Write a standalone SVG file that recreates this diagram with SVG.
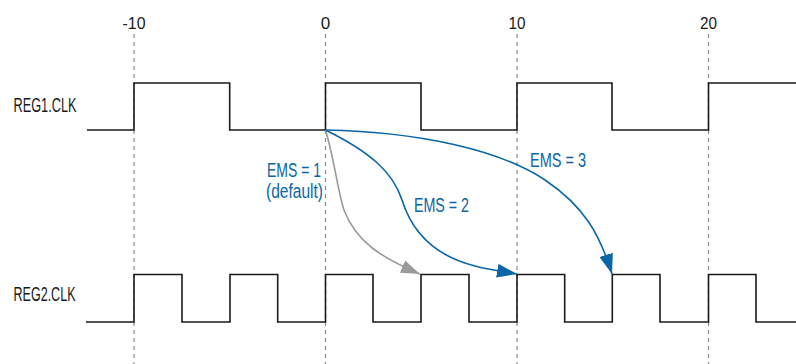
<svg xmlns="http://www.w3.org/2000/svg" width="796" height="364" viewBox="0 0 796 364">
  <style>
    .lbl { font-family: "Liberation Sans", Arial, sans-serif; fill: #1a1a1a; }
    .tick { font-size: 17px; text-anchor: middle; }
    .sig { font-size: 20px; }
    .ems { font-family: "Liberation Sans", Arial, sans-serif; font-size: 20px; fill: #0a66a6; }
    .grid { stroke: #8a8a8a; stroke-width: 1.2; stroke-dasharray: 4 4; fill: none; }
    .wave { stroke: #1a1a1a; stroke-width: 1.6; fill: none; stroke-linejoin: miter; }
    .blue { stroke: #0a66a6; stroke-width: 1.6; fill: none; }
    .gray { stroke: #9a9a9a; stroke-width: 1.6; fill: none; }
  </style>
  <defs>
    <marker id="ahBlue" viewBox="0 0 20 14" refX="20" refY="7" markerWidth="20" markerHeight="14" markerUnits="userSpaceOnUse" orient="auto">
      <path d="M0,0 L20,7 L0,14 z" fill="#0a66a6"/>
    </marker>
    <marker id="ahGray" viewBox="0 0 20 14" refX="20" refY="7" markerWidth="19" markerHeight="14" markerUnits="userSpaceOnUse" orient="auto">
      <path d="M0,0 L20,7 L0,14 z" fill="#9a9a9a"/>
    </marker>
  </defs>

  <g id="grid">
    <line class="grid" x1="134" y1="34" x2="134" y2="364"/>
    <line class="grid" x1="325.5" y1="34" x2="325.5" y2="364"/>
    <line class="grid" x1="517" y1="34" x2="517" y2="364"/>
    <line class="grid" x1="708.5" y1="34" x2="708.5" y2="364"/>
    <text class="lbl tick" x="134" y="28.5" textLength="23" lengthAdjust="spacingAndGlyphs">-10</text>
    <text class="lbl tick" x="325.5" y="28.5">0</text>
    <text class="lbl tick" x="517" y="28.5" textLength="17" lengthAdjust="spacingAndGlyphs">10</text>
    <text class="lbl tick" x="708.5" y="28.5" textLength="17" lengthAdjust="spacingAndGlyphs">20</text>
  </g>

  <g id="reg1">
    <text class="lbl sig" x="13.5" y="112" textLength="63" lengthAdjust="spacingAndGlyphs">REG1.CLK</text>
    <path class="wave" d="M87,130 H134 V83 H229.7 V130 H325.5 V83 H421 V130 H517 V83 H612 V130 H708.5 V83 H796"/>
  </g>

  <g id="reg2">
    <text class="lbl sig" x="13.5" y="301" textLength="62" lengthAdjust="spacingAndGlyphs">REG2.CLK</text>
    <path class="wave" d="M86,322 H134 V274.5 H182 V322 H230 V274.5 H277.7 V322 H325.5 V274.5 H373 V322 H421 V274.5 H469 V322 H517 V274.5 H564.7 V322 H612.3 V274.5 H660 V322 H708.5 V274.5 H756 V322 H796"/>
  </g>

  <g id="connectors">
    <path class="gray" d="M325.5,130 C334,158 338,192 344,210 C356,242 382,258 420,274" marker-end="url(#ahGray)"/>
    <path class="blue" d="M325.5,130 C370,152 393,172 402,200 C412,232 435,256 475,266 C490,270 505,272 517,274" marker-end="url(#ahBlue)"/>
    <path class="blue" d="M325.5,130 C420,132 500,150 545,180 C585,207 600,235 612,274" marker-end="url(#ahBlue)"/>
  </g>

  <g id="labels">
    <text class="ems" x="267" y="177" textLength="54" lengthAdjust="spacingAndGlyphs">EMS = 1</text>
    <text class="ems" x="266" y="198" textLength="57" lengthAdjust="spacingAndGlyphs">(default)</text>
    <text class="ems" x="414" y="212" textLength="55" lengthAdjust="spacingAndGlyphs">EMS = 2</text>
    <text class="ems" x="530" y="167" textLength="56" lengthAdjust="spacingAndGlyphs">EMS = 3</text>
  </g>
</svg>
